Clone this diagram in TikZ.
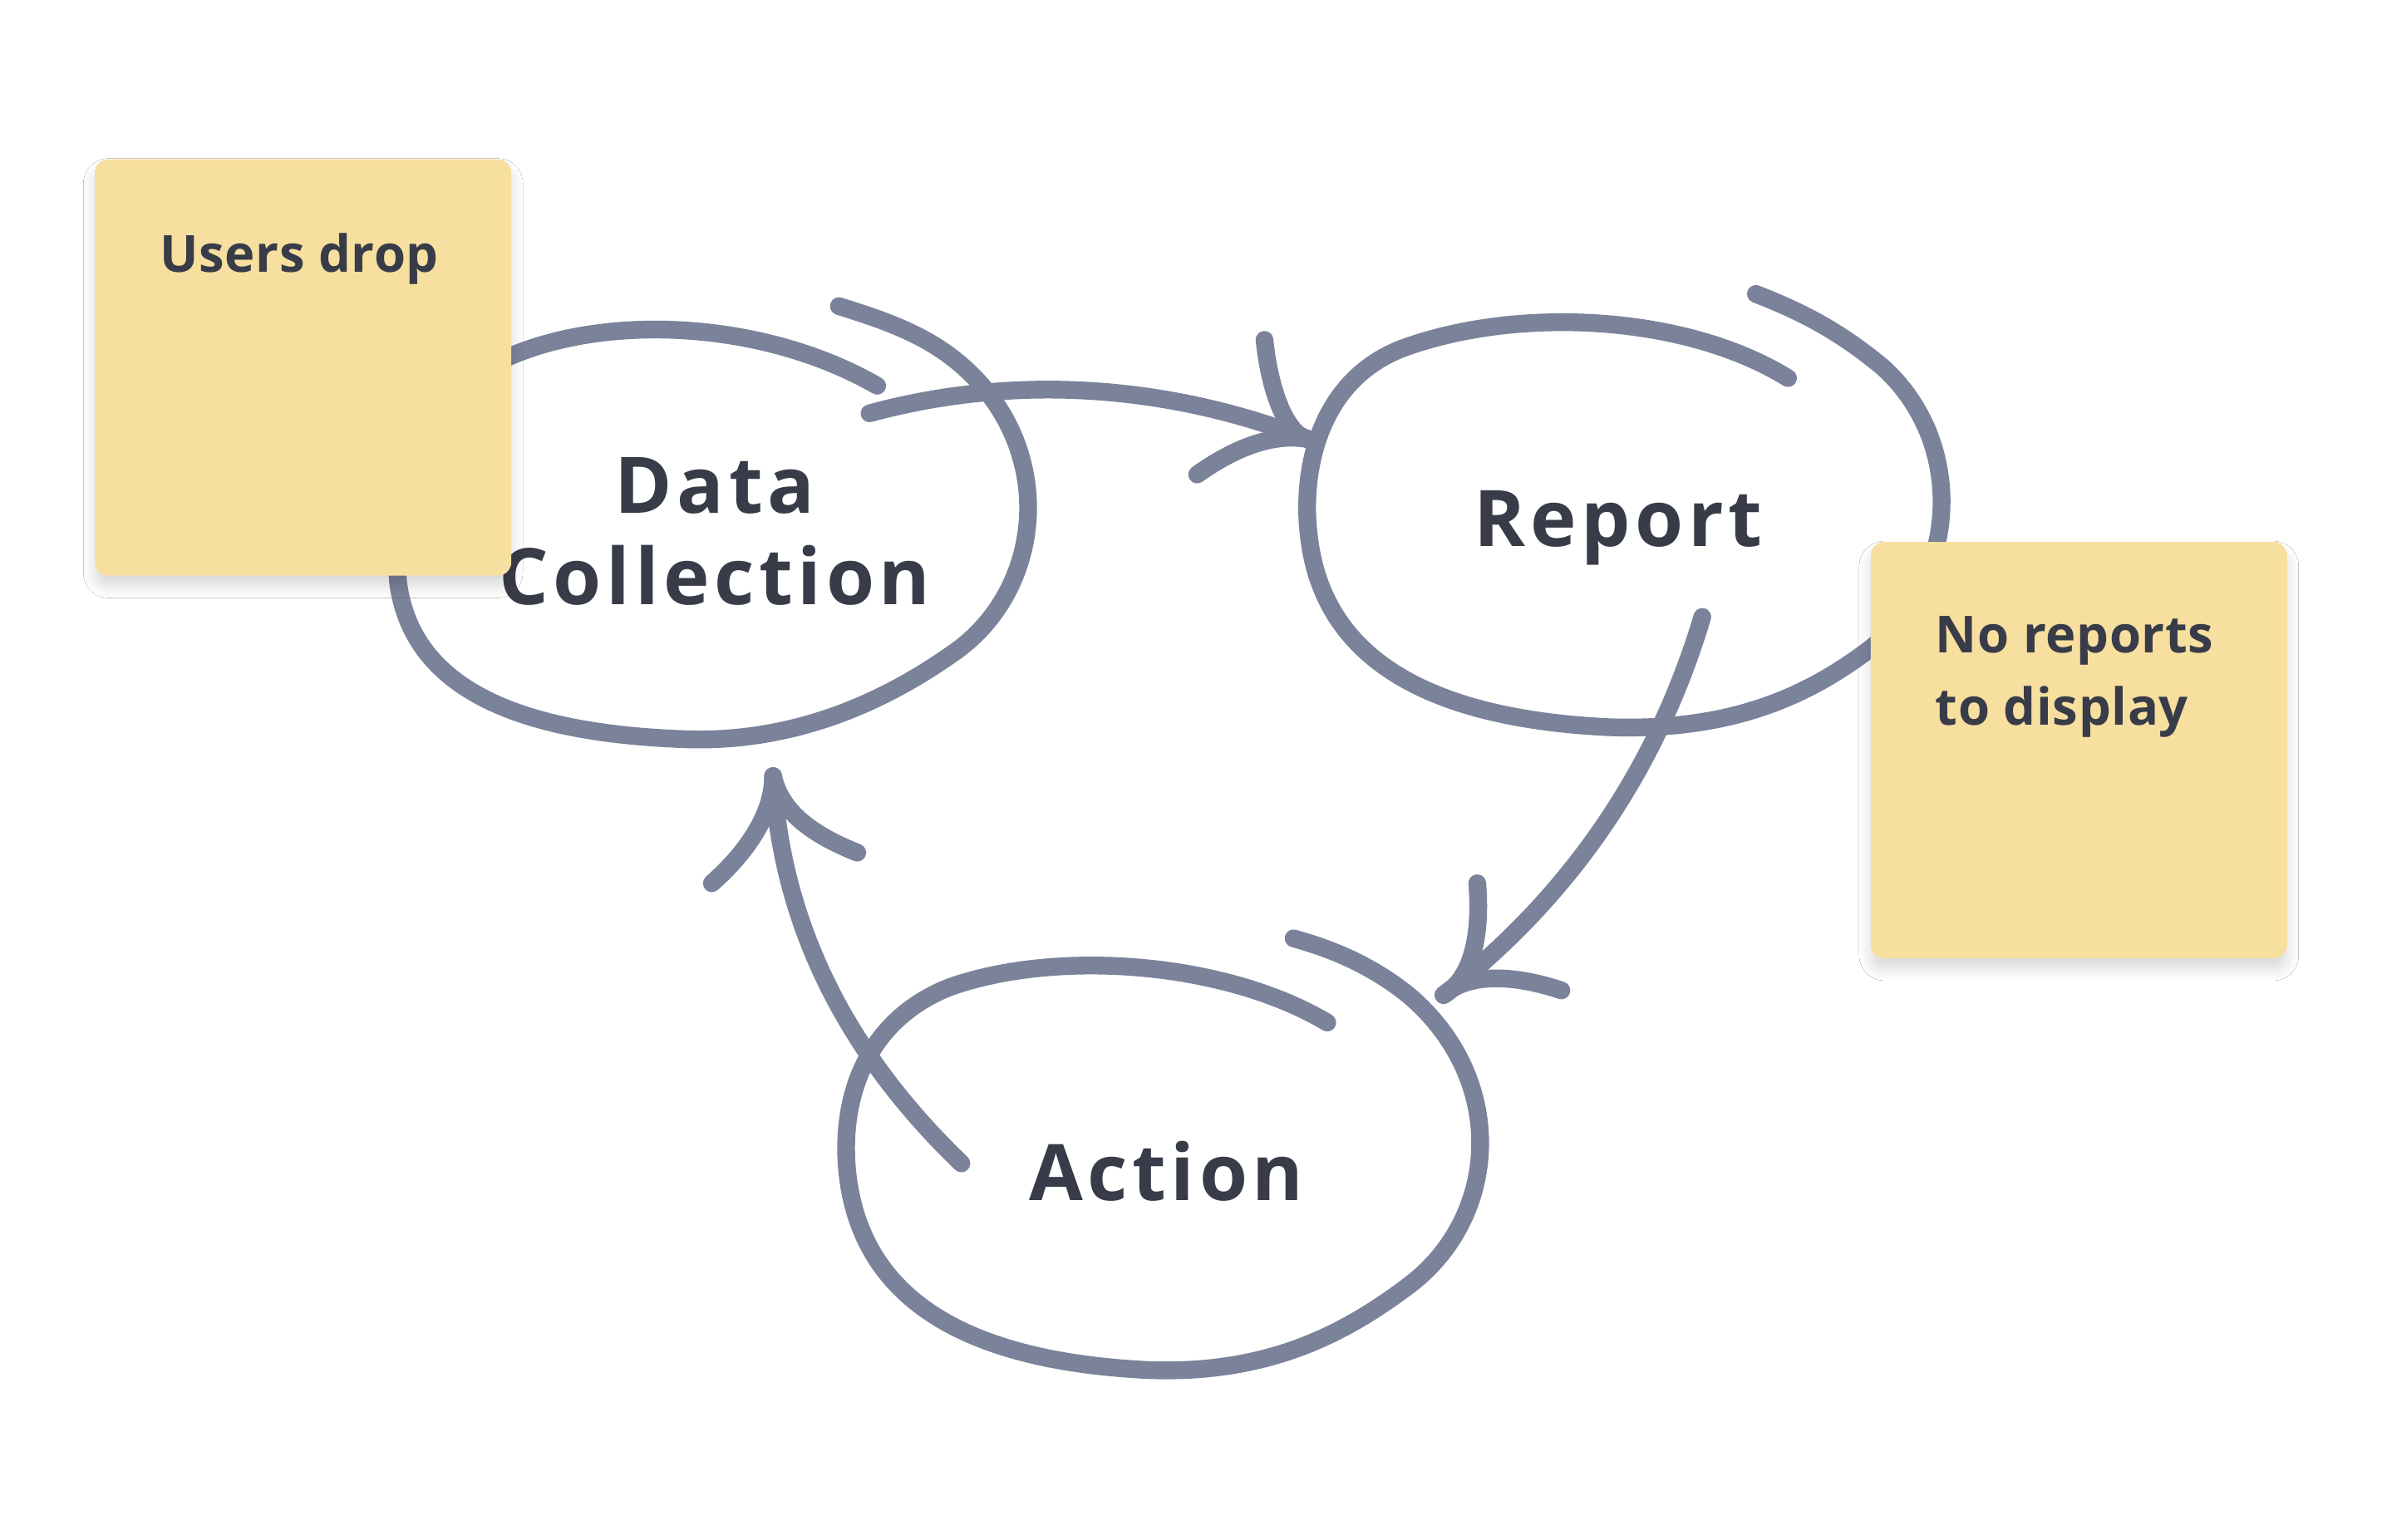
\documentclass[tikz,border=0pt]{standalone}
\usepackage{fontspec}
\setmainfont{Open Sans}
\usetikzlibrary{shadows.blur}
\definecolor{ln}{HTML}{7A839A}
\definecolor{tx}{HTML}{383C48}
\definecolor{note}{HTML}{F7DFA0}
\begin{document}
\begin{tikzpicture}[x=0.01cm,y=-0.01cm,
  loop/.style={draw=ln,line width=3.3pt,line cap=round,line join=round},
  lbl/.style={text=tx,font=\fontsize{14.5pt}{17pt}\selectfont\bfseries\addfontfeature{LetterSpace=6},align=center},
  sticky/.style={fill=note,rounded corners=2.5pt,blur shadow={shadow blur steps=8,shadow xshift=0pt,shadow yshift=-2pt,shadow opacity=15}},
  ntext/.style={text=tx,font=\fontsize{9.5pt}{13.5pt}\selectfont\addfontfeature{LetterSpace=1}\bfseries,align=left,anchor=north west}]
\useasboundingbox (0,0) rectangle (1556,1006);
\fill[white] (0,0) rectangle (1556,1006);
% Data Collection loop
\draw[loop] (573,252) .. controls (500,210) and (400,205) .. (335,232) .. controls (290,250) and (255,320) .. (260,380) .. controls (270,460) and (360,480) .. (450,483) .. controls (530,485) and (590,450) .. (625,425) .. controls (680,385) and (690,300) .. (635,245) .. controls (610,220) and (580,210) .. (548,200);
% Report loop
\draw[loop] (1168,247) .. controls (1100,205) and (990,200) .. (915,228) .. controls (860,250) and (850,310) .. (855,350) .. controls (865,440) and (950,470) .. (1050,475) .. controls (1130,478) and (1180,455) .. (1220,425) .. controls (1280,380) and (1285,290) .. (1230,240) .. controls (1200,215) and (1175,203) .. (1147,192);
% Action loop
\draw[loop] (867,668) .. controls (800,628) and (690,620) .. (620,645) .. controls (570,665) and (550,710) .. (553,760) .. controls (560,860) and (650,890) .. (750,895) .. controls (830,898) and (880,870) .. (920,840) .. controls (980,795) and (985,705) .. (920,650) .. controls (895,630) and (870,620) .. (845,613);
% labels
\node[lbl] (dc) at (467,347) {Data\\Collection};
\node[lbl] (rep) at (1057,345) {Report};
\node[lbl] (act) at (762,765) {Action};
% connectors
\coordinate (t1) at (855,287);
\draw[loop] (568,270) .. controls (660,245) and (760,250) .. (t1);
\draw[loop] (826,222) .. controls (830,260) and (842,285) .. (t1);
\draw[loop] (782,310) .. controls (810,290) and (835,283) .. (t1);
\coordinate (t2) at (943,650);
\draw[loop] (1112,403) .. controls (1080,510) and (1020,590) .. (t2);
\draw[loop] (965,577) .. controls (968,615) and (960,640) .. (t2);
\draw[loop] (1020,647) .. controls (990,637) and (960,635) .. (t2);
\coordinate (t3) at (505,507);
\draw[loop] (628,760) .. controls (550,685) and (510,600) .. (t3);
\draw[loop] (465,577) .. controls (490,555) and (505,530) .. (t3);
\draw[loop] (560,557) .. controls (530,545) and (510,530) .. (t3);
% sticky notes
\path[sticky] (62,104) rectangle (334,376);
\node[ntext] (n1) at (92,140) {Users drop};
\path[sticky] (1222,354) rectangle (1494,626);
\node[ntext] (n2) at (1252,390) {No reports\\to display};
\end{tikzpicture}
\end{document}
